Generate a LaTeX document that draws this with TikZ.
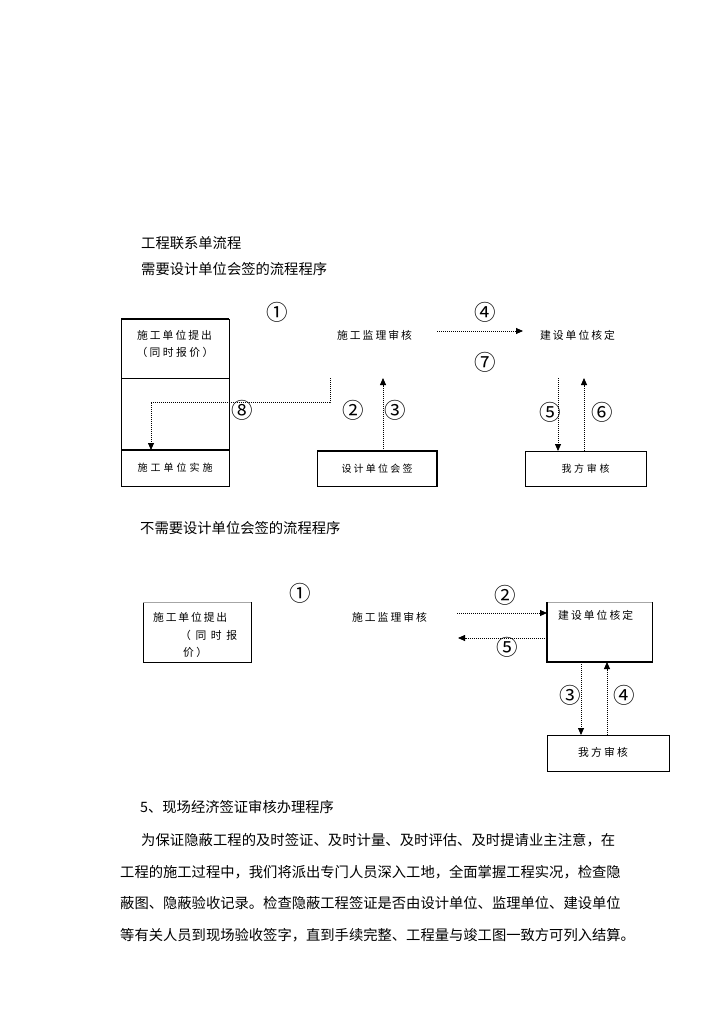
\documentclass[tikz,border=0pt]{standalone}
\usepackage{fontspec}
\setmainfont{Noto Sans CJK SC}
\usetikzlibrary{arrows.meta}
\newcommand\spl[2]{\makebox[#1][s]{\sprA#2\relax}}
\def\sprA#1{#1\sprB}
\def\sprB#1{\ifx#1\relax\else\hfil#1\expandafter\sprB\fi}
\begin{document}
\begin{tikzpicture}[x=1pt,y=-1pt,
 box/.style={draw,line width=0.9pt,inner sep=0pt,outer sep=0pt},
 frame/.style={line width=0.9pt},
 heavy/.style={line width=2.2pt},
 lbl/.style={inner sep=0pt,font=\fontsize{10.8}{12}\selectfont},
 num/.style={inner sep=0pt,font=\fontsize{21.5}{22}\selectfont},
 head/.style={inner sep=0pt,anchor=west,font=\fontsize{14.3}{16}\selectfont},
 arr/.style={line width=0.8pt,dash pattern=on 0.9pt off 1.1pt,-{Triangle[length=7pt,width=6pt]}}]
\fill[white] (0,0) rectangle (724,1024);
\useasboundingbox (0,0) rectangle (724,1024);
% headers
\node[head] (h1) at (141,243) {工程联系单流程};
\node[head] (h2) at (141,269) {需要设计单位会签的流程程序};
\node[head] (h3) at (140,528) {不需要设计单位会签的流程程序};
\node[head] (h4) at (140,807) {5、现场经济签证审核办理程序};
\node[head] (p1) at (141,840) {\spl{474pt}{为保证隐蔽工程的及时签证、及时计量、及时评估、及时提请业主注意，在}};
\node[head] (p2) at (120,872) {\spl{495pt}{工程的施工过程中，我们将派出专门人员深入工地，全面掌握工程实况，检查隐}};
\node[head] (p3) at (120,903) {\spl{495pt}{蔽图、隐蔽验收记录。检查隐蔽工程签证是否由设计单位、监理单位、建设单位}};
\node[head] (p4) at (120,935) {\spl{497pt}{等有关人员到现场验收签字，直到手续完整、工程量与竣工图一致方可列入结算。}};
% diagram 1
\node[box,minimum width=108pt,minimum height=59pt] (A1) at (175,348.5) {};
\draw[frame] (121,378) rectangle (229,450);
\node[box,minimum width=108pt,minimum height=36pt] (A2) at (175,468) {\spl{75pt}{施工单位实施}};
\draw[heavy] (A1.north west) -- (A1.north east);
\draw[heavy] (A2.north west) -- (A2.north east);
\node[lbl] (t1) at (174.5,335) {\spl{75pt}{施工单位提出}};
\node[lbl] (t2) at (175,352) {\spl{77pt}{（同时报价）}};
\node[lbl] (S1) at (374.5,335) {\spl{75pt}{施工监理审核}};
\node[lbl] (J1) at (577.5,335) {\spl{75pt}{建设单位核定}};
\node[box,minimum width=120pt,minimum height=35pt] (D) at (377,468.5) {\spl{71pt}{设计单位会签}};
\draw[line width=1.4pt] (D.north west) -- (D.north east) -- (D.south east);
\node[box,minimum width=121pt,minimum height=35pt] (W) at (585.5,468.5) {\spl{48pt}{我方审核}};
\coordinate (c4a) at (437,331);
\coordinate (c4b) at (523,331);
\draw[arr] (c4a) -- (c4b);
\coordinate (c8) at (330,378);
\draw[arr] (c8) -- ++(0,24) -| ([xshift=-24pt]A2.north);
\coordinate (c3) at (383,378);
\draw[arr] ([xshift=6pt]D.north) -- (c3);
\coordinate (c5) at (558,378);
\draw[arr] (c5) -- (c5 |- W.north);
\coordinate (c6) at (584,378);
\draw[arr] (c6 |- W.north) -- (c6);
\node[num] (n1) at (277,312) {①};
\node[num] (n4) at (485,312) {④};
\node[num] (n7) at (485,362) {⑦};
\node[num] (n8) at (242,410) {⑧};
\node[num] (n2) at (353,410) {②};
\node[num] (n3) at (395,410) {③};
\node[num] (n5) at (550,412) {⑤};
\node[num] (n6) at (602,412) {⑥};
% diagram 2
\node[box,minimum width=108pt,minimum height=60pt] (L2) at (197,632) {};
\draw[line width=1pt,gray!70] (L2.north west) -- (L2.north east);
\node[lbl,anchor=west] (u1) at (153,617) {\spl{74pt}{施工单位提出}};
\node[lbl,anchor=west] (u2) at (180,635) {\spl{57pt}{（同时报}};
\node[lbl,anchor=west] (u3) at (183,652) {\spl{24pt}{价）}};
\node[lbl] (S2) at (389.5,617) {\spl{75pt}{施工监理审核}};
\node[box,minimum width=105pt,minimum height=60pt] (B2) at (599.5,632) {};
\draw[line width=1pt,gray!70] (B2.north west) -- (B2.north east);
\draw[line width=1.8pt] (B2.north west) -- (B2.south west) -- (B2.south east);
\node[lbl,anchor=west] (b2t) at (558,615) {\spl{75pt}{建设单位核定}};
\node[box,minimum width=122pt,minimum height=36pt] (W2) at (608,753) {};
\node[lbl] (w2t) at (603,752) {\spl{50pt}{我方审核}};
\coordinate (d2) at (457,613);
\draw[arr] (d2) -- (d2 -| B2.west);
\coordinate (d5) at (458,638);
\draw[arr] (d5 -| B2.west) -- (d5);
\draw[arr] ([xshift=-18.5pt]B2.south) -- ([xshift=-18.5pt]B2.south |- W2.north);
\draw[arr] ([xshift=7.5pt]B2.south |- W2.north) -- ([xshift=7.5pt]B2.south);
\node[num] (m1) at (300,593) {①};
\node[num] (m2) at (505,595) {②};
\node[num] (m5) at (507,647) {⑤};
\node[num] (m3) at (570,695) {③};
\node[num] (m4) at (624,695) {④};
\end{tikzpicture}
\end{document}
